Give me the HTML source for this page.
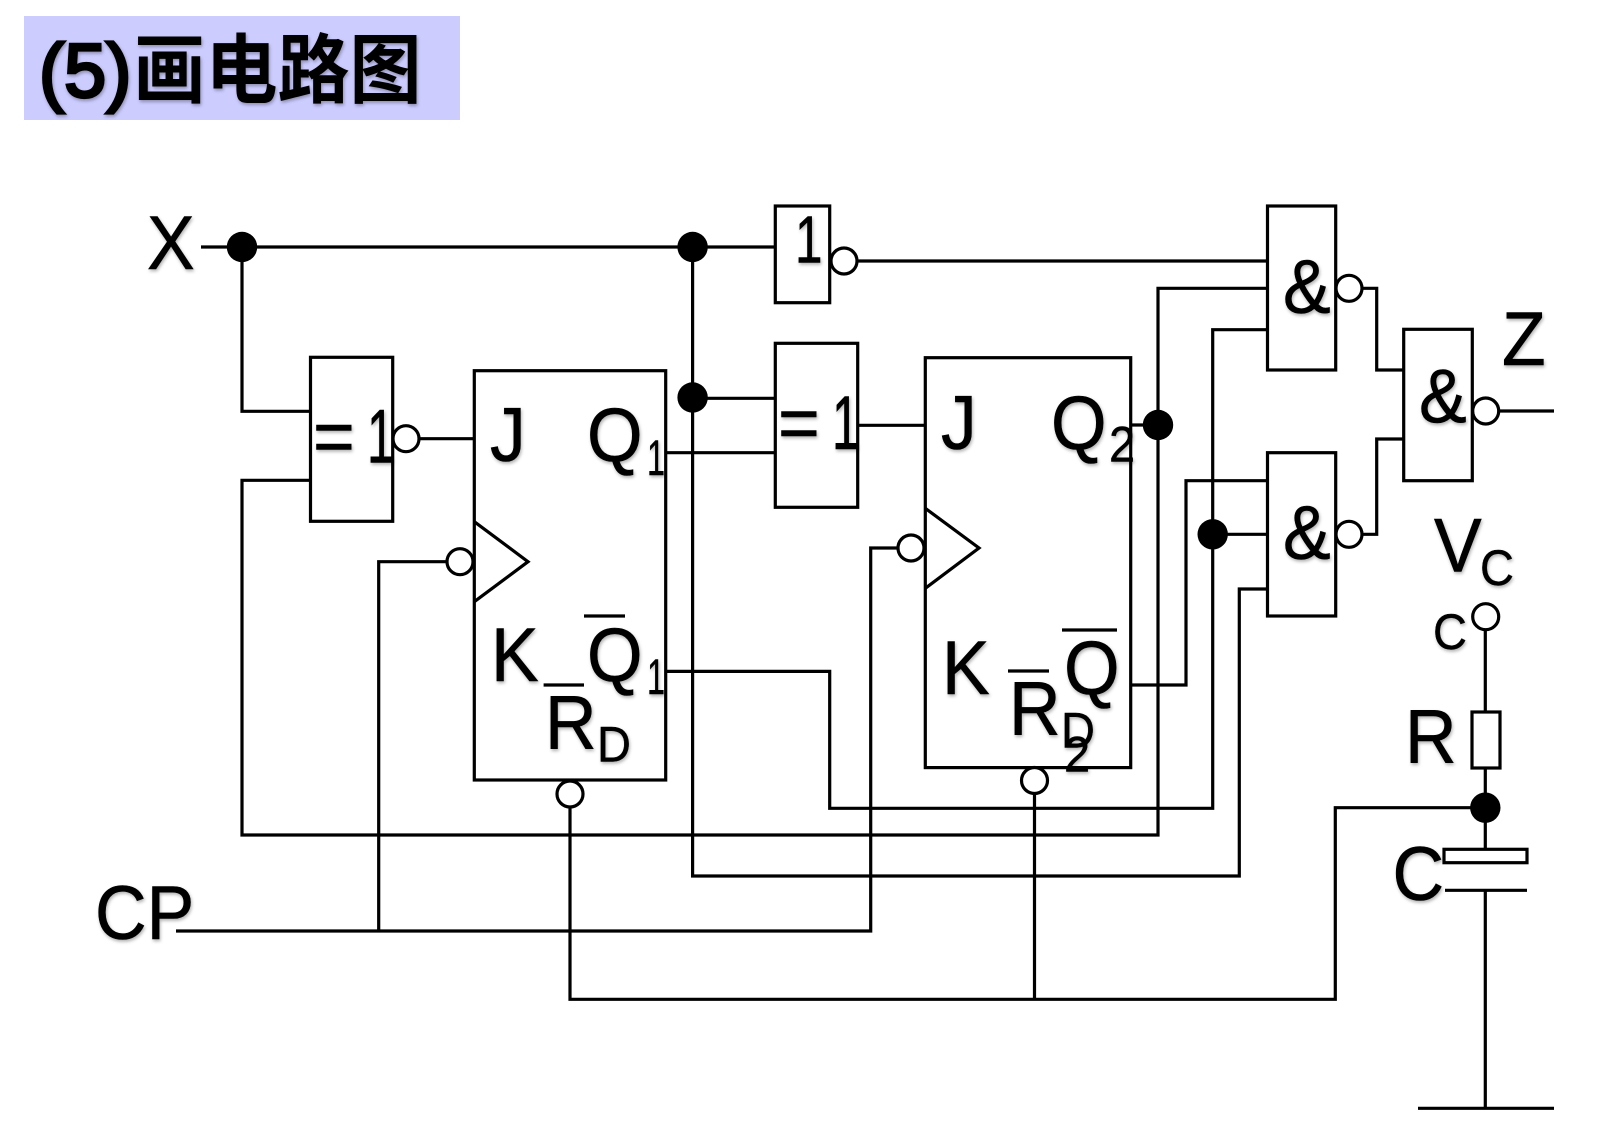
<!DOCTYPE html>
<html lang="zh"><head><meta charset="utf-8"><title>(5)画电路图</title>
<style>
html,body{margin:0;padding:0;background:#fff;width:1622px;height:1138px;overflow:hidden}
svg{display:block}
.w path,.w rect,.w circle,.w polyline{fill:none;stroke:#000;stroke-width:3.2}
.w circle.o{fill:#fff}
.w rect{fill:none}
.d circle{fill:#000}
.t text{font-family:"Liberation Sans","Noto Sans CJK SC",sans-serif;fill:#000;font-size:76px;stroke:#000;stroke-width:.6}
.t text.s{font-size:50px;stroke-width:.4}
.t{filter:drop-shadow(1.5px 2px 1.5px rgba(0,0,0,.3))}
.t text.h{font-size:72px;font-weight:bold;stroke-width:0}
.t text.p{font-size:72px;stroke-width:3}
</style></head><body>
<svg width="1622" height="1138" viewBox="0 0 1622 1138" xmlns="http://www.w3.org/2000/svg">
<rect x="24" y="16" width="436" height="104" fill="#ccccff"/>
<g class="w">
<!-- wires -->
<path d="M201 247H775"/>
<path d="M242 247V411.3H310"/>
<path d="M310 480.3H242V835H1158V288.3H1267.5"/>
<path d="M692.6 247V876H1239.3V589H1267.5"/>
<path d="M692.6 398.3H775.3"/>
<path d="M665.7 452.7H775.3"/>
<path d="M857.7 425.3H925.3"/>
<path d="M420 438.7H474.3"/>
<path d="M446 561.7H378.7V931"/>
<path d="M176 931H870.7V548H897"/>
<path d="M858 261H1267.5"/>
<path d="M1130.7 425H1158"/>
<path d="M665.7 671.4H829.7V808.3H1212.7V329.7H1267.5"/>
<path d="M1130.7 685H1186V480.7H1267.5"/>
<path d="M1212.7 534.3H1267.5"/>
<path d="M1363 288.3H1376.7V370H1403.7"/>
<path d="M1363 534.3H1376.7V439H1403.7"/>
<path d="M1500 411H1554"/>
<path d="M570 808V999.3H1335.3V807.7H1485"/>
<path d="M1034.5 794V999.3"/>
<path d="M1485.3 631V712M1485.3 768V849M1485.3 890V1108"/>
<path d="M1445 890.3H1527"/>
<path d="M1418 1108.3H1554"/>
<!-- bars -->
<path d="M584 616H625M543.6 685H584M1062 630H1117M1008 671H1049"/>
<!-- boxes -->
<rect x="310.5" y="357.3" width="82.2" height="164"/>
<rect x="474.3" y="370.7" width="191.4" height="409.3"/>
<rect x="775.3" y="206" width="54.4" height="96.7"/>
<rect x="775.3" y="343.3" width="82.4" height="164"/>
<rect x="925.3" y="357.7" width="205.4" height="409.9"/>
<rect x="1267.5" y="206" width="68.2" height="164"/>
<rect x="1267.5" y="452.7" width="68.2" height="163.3"/>
<rect x="1403.7" y="329.3" width="68.6" height="151.4"/>
<rect x="1472" y="712" width="28" height="56"/>
<rect x="1444" y="849.3" width="83" height="13.4"/>
<polyline points="474.3,521.7 528,561.7 474.3,601.7"/>
<polyline points="925.3,508.3 979,548 925.3,588.3"/>
</g>
<g class="d">
<circle cx="242" cy="247" r="15.2"/>
<circle cx="692.6" cy="247" r="15.2"/>
<circle cx="692.6" cy="397.5" r="15.2"/>
<circle cx="1158" cy="425" r="15.2"/>
<circle cx="1212.7" cy="534.3" r="15.2"/>
<circle cx="1485.3" cy="807.7" r="15.2"/>
</g>
<g class="t">
<text class="p" transform="translate(39 97) scale(1.05 1.06)">(5)</text>
<text class="h" transform="translate(133.5 97) scale(1 1.06)">画电路图</text>
<text transform="translate(147 269) scale(.94 1)">X</text>
<text transform="translate(95 939) scale(.94 1)">CP</text>
<text transform="translate(313 462.5) scale(.94 1)">=</text>
<text transform="translate(367 462.5) scale(.65 1)">1</text>
<text transform="translate(778 449) scale(.94 1)">=</text>
<text transform="translate(832 449) scale(.65 1)">1</text>
<text transform="translate(795 262.5) scale(.65 .88)">1</text>
<text transform="translate(490 461) scale(.94 1)">J</text>
<text transform="translate(587 461) scale(.94 1)">Q</text>
<text class="s" transform="translate(647 475) scale(.65 1)">1</text>
<text transform="translate(491 681) scale(.94 1)">K</text>
<text transform="translate(587 681) scale(.94 1)">Q</text>
<text class="s" transform="translate(647 694) scale(.65 1)">1</text>
<text transform="translate(545 749) scale(.94 1)">R</text>
<text class="s" transform="translate(597 761.5) scale(.94 1)">D</text>
<text transform="translate(941 449) scale(.94 1)">J</text>
<text transform="translate(1051 449) scale(.94 1)">Q</text>
<text class="s" transform="translate(1109 461.5) scale(.94 1)">2</text>
<text transform="translate(942 694) scale(.94 1)">K</text>
<text transform="translate(1064 694) scale(.94 1)">Q</text>
<text transform="translate(1009 735) scale(.94 1)">R</text>
<text class="s" transform="translate(1061 747.5) scale(.94 1)">D</text>
<text class="s" transform="translate(1064 771.5) scale(.94 1)">2</text>
<text transform="translate(1283 313) scale(.94 1)">&amp;</text>
<text transform="translate(1283 559) scale(.94 1)">&amp;</text>
<text transform="translate(1419 422.5) scale(.94 1)">&amp;</text>
<text transform="translate(1502 365) scale(.94 1)">Z</text>
<text transform="translate(1434 571.5) scale(.94 1)">V</text>
<text class="s" transform="translate(1480 585) scale(.94 1)">C</text>
<text class="s" transform="translate(1433 649) scale(.94 1)">C</text>
<text transform="translate(1405 763) scale(.94 1)">R</text>
<text transform="translate(1392.5 900) scale(.94 1)">C</text>
</g>
<g class="w">
<circle class="o" cx="406" cy="438.7" r="13"/>
<circle class="o" cx="460" cy="561.7" r="13"/>
<circle class="o" cx="570" cy="794" r="13"/>
<circle class="o" cx="844" cy="261" r="13"/>
<circle class="o" cx="911" cy="548" r="13"/>
<circle class="o" cx="1034.5" cy="780.5" r="13"/>
<circle class="o" cx="1349" cy="288.3" r="13"/>
<circle class="o" cx="1349" cy="534.3" r="13"/>
<circle class="o" cx="1485.7" cy="411" r="13"/>
<circle class="o" cx="1485.7" cy="616.7" r="13"/>
</g>
</svg>
</body></html>
